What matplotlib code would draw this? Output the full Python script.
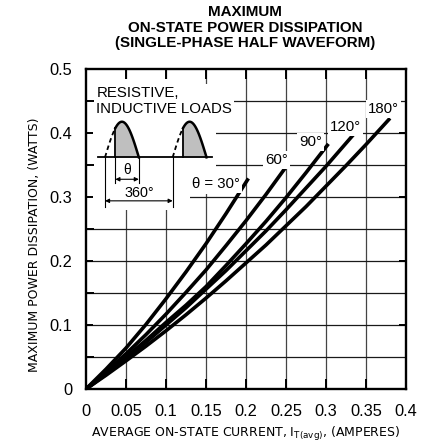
import numpy as np
import matplotlib
matplotlib.use('Agg')
import matplotlib.pyplot as plt
from matplotlib.patches import Rectangle

plt.rcParams['font.family'] = ['Liberation Sans', 'DejaVu Sans']

# values: average current (A) -> power (W), one curve per conduction angle
i_30 = [0, 0.025, 0.05, 0.075, 0.1, 0.125, 0.15, 0.175, 0.203]
p_30 = [0, 0.031, 0.064, 0.101, 0.141, 0.183, 0.227, 0.274, 0.329]

i_60 = [0, 0.025, 0.05, 0.075, 0.1, 0.125, 0.15, 0.175, 0.2, 0.225, 0.25]
p_60 = [0, 0.027, 0.055, 0.085, 0.117, 0.151, 0.186, 0.224, 0.263, 0.304, 0.347]

i_90 = [0, 0.025, 0.05, 0.075, 0.1, 0.125, 0.15, 0.175, 0.2, 0.225, 0.25, 0.275, 0.303]
p_90 = [0, 0.024, 0.050, 0.076, 0.104, 0.131, 0.160, 0.193, 0.227, 0.262, 0.299, 0.338, 0.383]

i_120 = [0, 0.025, 0.05, 0.075, 0.1, 0.125, 0.15, 0.175, 0.2, 0.225, 0.25, 0.275, 0.3, 0.334]
p_120 = [0, 0.023, 0.048, 0.073, 0.100, 0.127, 0.156, 0.185, 0.216, 0.247, 0.280, 0.314, 0.348, 0.397]

i_180 = [0, 0.025, 0.05, 0.075, 0.1, 0.125, 0.15, 0.175, 0.2, 0.225, 0.25, 0.275, 0.3, 0.325, 0.35, 0.38]
p_180 = [0, 0.0215, 0.044, 0.067, 0.091, 0.116, 0.142, 0.169, 0.197, 0.225, 0.255, 0.285, 0.317, 0.349, 0.382, 0.423]

curve_labels = ['\u03b8 = 30\u00b0', '60\u00b0', '90\u00b0', '120\u00b0', '180\u00b0']

x_ticks = [0, 0.05, 0.1, 0.15, 0.2, 0.25, 0.3, 0.35, 0.4]
x_ticklabels = ['0', '0.05', '0.1', '0.15', '0.2', '0.25', '0.3', '0.35', '0.4']
y_ticks = [0, 0.1, 0.2, 0.3, 0.4, 0.5]
y_ticklabels = ['0', '0.1', '0.2', '0.3', '0.4', '0.5']
y_minor = [0.05, 0.15, 0.25, 0.35, 0.45]

W, H = 429, 445
fig = plt.figure(figsize=(W / 100, H / 100), dpi=100)
ax = fig.add_axes([86 / W, 1 - 389 / H, 320 / W, 320 / H])
ax.set_xlim(0, 0.4)
ax.set_ylim(0, 0.5)

# grid drawn by hand so the white inset can sit on top of it
for v in x_ticks[1:-1]:
    ax.axvline(v, color='#444444', lw=0.9, zorder=1)
for h in sorted(y_ticks[1:-1] + y_minor):
    ax.axhline(h, color='#1a1a1a', lw=0.9, zorder=1)

# white area behind the waveform sketch
ax.add_patch(Rectangle((0, 0.28), 0.13, 0.204, fc='white', ec='none', zorder=1.2))
ax.add_patch(Rectangle((0.13, 0.305), 0.0325, 0.165, fc='white', ec='none', zorder=1.2))

# curves
series = [(i_30, p_30), (i_60, p_60), (i_90, p_90), (i_120, p_120), (i_180, p_180)]
for xs, ys in series:
    ax.plot(xs, ys, color='black', lw=2.6, solid_capstyle='butt', zorder=2)

lbl_pos = [(0.1625, 0.320), (0.238, 0.358), (0.281, 0.386), (0.324, 0.409), (0.372, 0.4375)]
for txt, (x, y) in zip(curve_labels, lbl_pos):
    ax.text(x, y, txt, fontsize=10.8, ha='center', va='center', zorder=3,
            bbox=dict(fc='white', ec='none', pad=1.5))

# waveform sketch
ax.text(0.013, 0.45, 'RESISTIVE,\nINDUCTIVE LOADS', fontsize=10.8, ha='left', va='center',
        linespacing=1.15, zorder=3, bbox=dict(fc='white', ec='none', pad=1.5))
base = 0.362
amp = 0.0556
period = 0.0846
fire = 55
ax.plot([0.0154, 0.157], [base, base], color='black', lw=1.3, zorder=2)
for x0 in [0.02375, 0.02375 + period]:
    d_off = np.linspace(0, fire, 20)
    d_on = np.linspace(fire, 180, 50)
    x_off = x0 + d_off / 360 * period
    x_on = x0 + d_on / 360 * period
    y_off = base + amp * np.sin(np.radians(d_off))
    y_on = base + amp * np.sin(np.radians(d_on))
    ax.plot(x_off, y_off, color='black', lw=1.3, ls=(0, (2.5, 1.8)), zorder=2)
    ax.fill_between(x_on, base, y_on, color='#bfbfbf', lw=0, zorder=1.5)
    ax.plot(x_on, y_on, color='black', lw=1.8, zorder=2)
    ax.plot([x_on[0], x_on[0]], [base, y_on[0]], color='black', lw=1.3, zorder=2)

x_fire = 0.02375 + fire / 360 * period
x_end = 0.02375 + 0.5 * period
for xv in [x_fire, x_end]:
    ax.plot([xv, xv], [base, 0.322], color='black', lw=0.8, zorder=2)
for xv in [0.02375, 0.02375 + period]:
    ax.plot([xv, xv], [base, 0.285], color='black', lw=0.8, zorder=2)
arrow = dict(arrowstyle='<|-|>', lw=0.8, color='black', shrinkA=0, shrinkB=0, mutation_scale=6)
ax.annotate('', xy=(x_end, 0.3277), xytext=(x_fire, 0.3277), arrowprops=arrow, zorder=2)
ax.annotate('', xy=(0.02375 + period, 0.294), xytext=(0.02375, 0.294), arrowprops=arrow, zorder=2)
ax.text((x_fire + x_end) / 2, 0.342, '\u03b8', fontsize=10, ha='center', va='center', zorder=3)
ax.text(0.0665, 0.3065, '360\u00b0', fontsize=10.4, ha='center', va='center', zorder=3)

# ticks and spines
ax.set_xticks(x_ticks)
ax.set_xticklabels(x_ticklabels)
ax.set_yticks(y_ticks)
ax.set_yticklabels(y_ticklabels)
ax.set_yticks(y_minor, minor=True)
ax.tick_params(axis='x', which='major', direction='in', top=True, length=7, width=1.4,
               labelsize=11.8, pad=11)
ax.tick_params(axis='y', which='both', direction='in', left=True, right=False, length=6,
               width=1.4, labelsize=11.8, pad=10)
ax.tick_params(axis='y', which='major', right=True, length=5)
for s in ax.spines.values():
    s.set_linewidth(1.7)

fig.text(245 / W, 1 - 12 / H, 'MAXIMUM', fontsize=10.9, fontweight='bold', ha='center', va='center')
fig.text(245 / W, 1 - 27.5 / H, 'ON-STATE POWER DISSIPATION', fontsize=10.9, fontweight='bold',
         ha='center', va='center')
fig.text(245 / W, 1 - 43 / H, '(SINGLE-PHASE HALF WAVEFORM)', fontsize=10.9, fontweight='bold',
         ha='center', va='center')

fig.text(246 / W, 1 - 434 / H, r'AVERAGE ON-STATE CURRENT, I$_{\mathregular{T(avg)}}$, (AMPERES)',
         fontsize=9, family=['DejaVu Sans'], ha='center', va='center')
fig.text(35 / W, 1 - 245 / H, 'MAXIMUM POWER DISSIPATION, (WATTS)', fontsize=9,
         family=['DejaVu Sans'], rotation=90, ha='center', va='center')

fig.savefig('out.png', dpi=100)
